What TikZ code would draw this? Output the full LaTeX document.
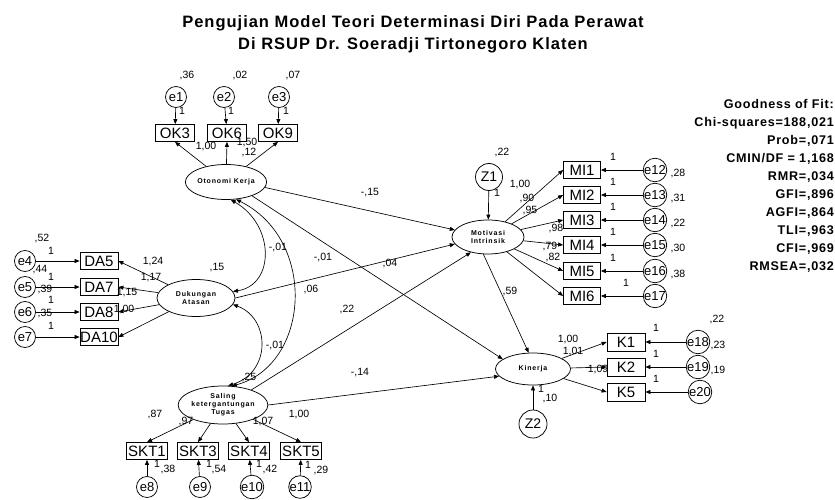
\documentclass[tikz,border=0pt]{standalone}
\usepackage{fontspec}
\setmainfont{Liberation Sans}
\newfontfamily\spacedfont[LetterSpace=6]{Liberation Sans}
\newfontfamily\latfont[LetterSpace=12]{Liberation Sans}
\usetikzlibrary{arrows.meta,shapes.geometric}
\tikzset{
 lat/.style={ellipse,draw,line width=0.75pt,minimum width=77pt,minimum height=35pt,inner sep=0pt,align=center,font=\latfont\bfseries\fontsize{7}{8}\selectfont},
 obs/.style={rectangle,draw,line width=0.75pt,minimum width=38pt,minimum height=17pt,inner sep=0pt,font=\fontsize{15}{15}\selectfont},
 errc/.style={circle,draw,line width=0.75pt,minimum size=21pt,inner sep=0pt,font=\fontsize{13}{13}\selectfont},
 num/.style={font=\fontsize{10.5}{11}\selectfont,inner sep=0pt},
 arr/.style={-{Triangle[length=5pt,width=4pt]},line width=0.65pt},
 cov/.style={{Triangle[length=5pt,width=4pt]}-{Triangle[length=5pt,width=4pt]},line width=0.65pt},
 ttl/.style={font=\spacedfont\bfseries\fontsize{16.5}{17}\selectfont,inner sep=0pt},
 gof/.style={align=right,font=\spacedfont\bfseries\fontsize{12.6}{18}\selectfont,inner sep=0pt}
}
\begin{document}
\begin{tikzpicture}[x=1pt,y=-1pt]
\useasboundingbox (0,0) rectangle (835,500);
% titles
\node[ttl] (t1) at (413,23) {Pengujian Model Teori Determinasi Diri Pada Perawat};
\node[ttl] (t2) at (413,45) {Di RSUP Dr. Soeradji Tirtonegoro Klaten};
% goodness of fit
\node[gof,anchor=north east] (gf) at (834,99) {Goodness of Fit:\\Chi-squares=188,021\\Prob=,071\\CMIN/DF = 1,168\\RMR=,034\\GFI=,896\\AGFI=,864\\TLI=,963\\CFI=,969\\RMSEA=,032};

% ---------- Otonomi Kerja ----------
\node[lat] (OT) at (226,182) {Otonomi Kerja};
\node[obs,minimum width=39pt] (OK3) at (175,133) {OK3};
\node[obs,minimum width=39pt] (OK6) at (227,133) {OK6};
\node[obs,minimum width=39pt] (OK9) at (278,133) {OK9};
\node[errc] (e1) at (176,97) {e1};
\node[errc] (e2) at (224,97) {e2};
\node[errc] (e3) at (279,97) {e3};
\draw[arr] (e1) -- (OK3);
\draw[arr] (e2) -- (OK6);
\draw[arr] (e3) -- (OK9);
\draw[arr] (OT) -- (OK3.south);
\draw[arr] (OT) -- (OK6.south);
\draw[arr] (OT) -- (OK9.south);
\node[num] (v1) at (187,76) {,36};
\node[num] (v2) at (240,76) {,02};
\node[num] (v3) at (293,76) {,07};
\node[num] (w1) at (182,111) {1};
\node[num] (w2) at (231,111) {1};
\node[num] (w3) at (286,111) {1};
\node[num] (lok3) at (206,147) {1,00};
\node[num] (lok6) at (247,143) {1,50};
\node[num] (lok9) at (249,153) {,12};

% ---------- Dukungan Atasan ----------
\node[lat,minimum width=78pt,minimum height=37pt] (DU) at (196,298) {Dukungan\\Atasan};
\node[obs] (DA5) at (99,261) {DA5};
\node[obs] (DA7) at (99,287) {DA7};
\node[obs] (DA8) at (99,312) {DA8};
\node[obs] (DA10) at (99,337) {DA10};
\node[errc] (e4) at (25,261) {e4};
\node[errc] (e5) at (25,287) {e5};
\node[errc] (e6) at (25,312) {e6};
\node[errc] (e7) at (25,337) {e7};
\draw[arr] (e4) -- (DA5);
\draw[arr] (e5) -- (DA7);
\draw[arr] (e6) -- (DA8);
\draw[arr] (e7) -- (DA10);
\draw[arr] (DU) -- (DA5.east);
\draw[arr] (DU) -- (DA7.east);
\draw[arr] (DU) -- (DA8.east);
\draw[arr] (DU) -- (DA10.east);
\node[num] (v4) at (42,239) {,52};
\node[num] (v5) at (40,270) {,44};
\node[num] (v6) at (45,290) {,39};
\node[num] (v7) at (45,314) {,35};
\node[num] (w4) at (51,251) {1};
\node[num] (w5) at (51,277) {1};
\node[num] (w6) at (51,300) {1};
\node[num] (w7) at (51,326) {1};
\node[num] (lda5) at (153,262) {1,24};
\node[num] (lda7) at (151,278) {1,17};
\node[num] (lda8) at (127,293) {1,15};
\node[num] (lda10) at (124,310) {1,00};
\node[num] (vdu) at (217,268) {,15};

% ---------- Saling Ketergantungan Tugas ----------
\node[lat,minimum width=80pt,minimum height=38pt] (SA) at (223,405) {Saling\\ketergantungan\\Tugas};
\node[obs,minimum width=41pt] (SKT1) at (147,451) {SKT1};
\node[obs,minimum width=41pt] (SKT3) at (198,451) {SKT3};
\node[obs,minimum width=41pt] (SKT4) at (249,451) {SKT4};
\node[obs,minimum width=41pt] (SKT5) at (301,451) {SKT5};
\node[errc] (e8) at (147,487) {e8};
\node[errc] (e9) at (200,487) {e9};
\node[errc] (e10) at (252,487) {e10};
\node[errc] (e11) at (300,487) {e11};
\draw[arr] (e8) -- (SKT1);
\draw[arr] (e9) -- (SKT3);
\draw[arr] (e10) -- (SKT4);
\draw[arr] (e11) -- (SKT5);
\draw[arr] (SA) -- (SKT1.north);
\draw[arr] (SA) -- (SKT3.north);
\draw[arr] (SA) -- (SKT4.north);
\draw[arr] (SA) -- (SKT5.north);
\node[num] (w8) at (157,464) {1};
\node[num] (w9) at (209,464) {1};
\node[num] (w10) at (259,464) {1};
\node[num] (w11) at (308,465) {1};
\node[num] (v8) at (168,470) {,38};
\node[num] (v9) at (219,470) {,54};
\node[num] (v10) at (270,470) {,42};
\node[num] (v11) at (321,471) {,29};
\node[num] (ls1) at (155,415) {,87};
\node[num] (ls3) at (186,422) {,97};
\node[num] (ls4) at (263,422) {1,07};
\node[num] (ls5) at (299,415) {1,00};
\node[num] (vsa) at (249,378) {,25};

% ---------- Motivasi Intrinsik ----------
\node[lat,minimum width=72pt,minimum height=34pt] (MO) at (488,237) {Motivasi\\Intrinsik};
\node[errc,minimum size=27pt,font=\fontsize{14}{14}\selectfont] (Z1) at (489,177) {Z1};
\draw[arr] (Z1) -- (MO);
\node[num] (vz1) at (502,153) {,22};
\node[num] (wz1) at (497,193) {1};
\node[obs,minimum width=37pt] (MI1) at (582,170) {MI1};
\node[obs,minimum width=37pt] (MI2) at (582,195) {MI2};
\node[obs,minimum width=37pt] (MI3) at (582,220) {MI3};
\node[obs,minimum width=37pt] (MI4) at (582,245) {MI4};
\node[obs,minimum width=37pt] (MI5) at (582,271) {MI5};
\node[obs,minimum width=37pt] (MI6) at (582,296) {MI6};
\node[errc] (e12) at (655,170) {e12};
\node[errc] (e13) at (655,195) {e13};
\node[errc] (e14) at (655,220) {e14};
\node[errc] (e15) at (655,245) {e15};
\node[errc] (e16) at (655,271) {e16};
\node[errc] (e17) at (655,296) {e17};
\draw[arr] (e12) -- (MI1);
\draw[arr] (e13) -- (MI2);
\draw[arr] (e14) -- (MI3);
\draw[arr] (e15) -- (MI4);
\draw[arr] (e16) -- (MI5);
\draw[arr] (e17) -- (MI6);
\draw[arr] (MO) -- (MI1.west);
\draw[arr] (MO) -- (MI2.west);
\draw[arr] (MO) -- (MI3.west);
\draw[arr] (MO) -- (MI4.west);
\draw[arr] (MO) -- (MI5.west);
\draw[arr] (MO) -- (MI6.west);
\node[num] (w12) at (613,157) {1};
\node[num] (w13) at (613,182) {1};
\node[num] (w14) at (613,207) {1};
\node[num] (w15) at (613,232) {1};
\node[num] (w16) at (613,258) {1};
\node[num] (w17) at (626,283) {1};
\node[num] (v12) at (678,174) {,28};
\node[num] (v13) at (678,199) {,31};
\node[num] (v14) at (678,224) {,22};
\node[num] (v15) at (678,249) {,30};
\node[num] (v16) at (678,275) {,38};
\node[num] (lm1) at (520,185) {1,00};
\node[num] (lm2) at (527,199) {,90};
\node[num] (lm3) at (530,211) {,95};
\node[num] (lm4) at (556,229) {,98};
\node[num] (lm5) at (550,247) {,79};
\node[num] (lm6) at (553,258) {,82};

% ---------- Kinerja ----------
\node[lat,minimum width=75pt,minimum height=32pt] (KI) at (533,369) {Kinerja};
\node[errc,minimum size=28pt,font=\fontsize{14}{14}\selectfont] (Z2) at (533,424) {Z2};
\draw[arr] (Z2) -- (KI);
\node[num] (wz2) at (541,389) {1};
\node[num] (vz2) at (550,399) {,10};
\node[obs,minimum height=18pt] (K1) at (626,342) {K1};
\node[obs,minimum height=18pt] (K2) at (626,367) {K2};
\node[obs,minimum height=18pt] (K5) at (626,392) {K5};
\node[errc] (e18) at (698,342) {e18};
\node[errc] (e19) at (698,367) {e19};
\node[errc] (e20) at (700,392) {e20};
\draw[arr] (e18) -- (K1);
\draw[arr] (e19) -- (K2);
\draw[arr] (e20) -- (K5);
\draw[arr] (KI) -- (K1.west);
\draw[arr] (KI) -- (K2.west);
\draw[arr] (KI) -- (K5.west);
\node[num] (w18) at (656,328) {1};
\node[num] (w19) at (656,354) {1};
\node[num] (w20) at (656,379) {1};
\node[num] (v18a) at (717,320) {,22};
\node[num] (v18) at (718,346) {,23};
\node[num] (v19) at (718,371) {,19};
\node[num] (lk1) at (568,340) {1,00};
\node[num] (lk2) at (573,352) {1,01};
\node[num] (lk5) at (598,370) {1,09};

% ---------- covariances ----------
\draw[cov] (OT.-75) .. controls (275,225) and (275,285) .. (DU.10);
\draw[cov] (OT.-60) .. controls (318,240) and (310,365) .. (SA.65);
\draw[cov] (DU.-10) .. controls (270,318) and (272,372) .. (SA.75);
\node[num] (c1) at (278,248) {-,01};
\node[num] (c2) at (311,290) {,06};
\node[num] (c3) at (275,346) {-,01};

% ---------- structural paths ----------
\draw[arr] (OT.-8) -- (MO.168);
\draw[arr] (OT.-28) -- (KI.162);
\draw[arr] (DU.east) -- (MO.192);
\draw[arr] (SA.28) -- (MO.222);
\draw[arr] (SA.east) -- (KI.192);
\draw[arr] (MO.-105) -- (KI.105);
\node[num] (p1) at (370,193) {-,15};
\node[num] (p2) at (390,264) {,04};
\node[num] (p3) at (323,258) {-,01};
\node[num] (p4) at (347,310) {,22};
\node[num] (p5) at (360,373) {-,14};
\node[num] (p6) at (510,292) {,59};
\end{tikzpicture}
\end{document}
